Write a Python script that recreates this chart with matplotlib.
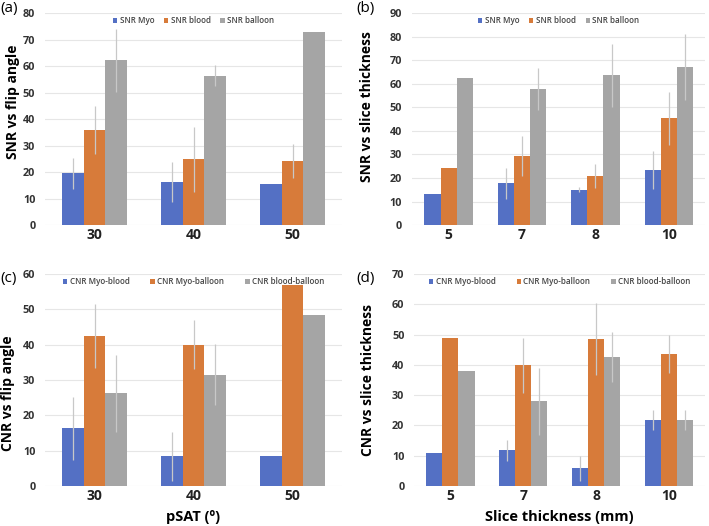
import matplotlib.pyplot as plt
import numpy as np

plt.rcParams['font.family'] = ['Open Sans', 'DejaVu Sans']

# colours (Excel-like palette)
c_blue = '#5470C4'
c_orange = '#D77B3A'
c_gray = '#A5A5A5'

# (a) SNR vs flip angle
flip = ['30', '40', '50']
snr_myo_a = [19.5, 16.3, 15.7]
snr_myo_a_err = [6.0, 7.5, 0]
snr_blood_a = [36.0, 24.8, 24.2]
snr_blood_a_err = [9.0, 12.3, 6.5]
snr_balloon_a = [62.2, 56.4, 72.8]
snr_balloon_a_err = [12.0, 4.0, 0]

# (b) SNR vs slice thickness
thick = ['5', '7', '8', '10']
snr_myo_b = [13.2, 17.8, 15.0, 23.5]
snr_myo_b_err = [0, 6.5, 1.0, 8.0]
snr_blood_b = [24.3, 29.5, 20.8, 45.3]
snr_blood_b_err = [0, 8.5, 5.0, 11.3]
snr_balloon_b = [62.3, 57.7, 63.6, 67.3]
snr_balloon_b_err = [0, 9.0, 13.5, 14.0]

# (c) CNR vs flip angle
cnr_mb_c = [16.3, 8.4, 8.4]
cnr_mb_c_err = [9.0, 7.0, 0]
cnr_mbal_c = [42.5, 40.0, 57.0]
cnr_mbal_c_err = [9.0, 7.0, 0]
cnr_bbal_c = [26.2, 31.5, 48.5]
cnr_bbal_c_err = [11.0, 8.7, 0]

# (d) CNR vs slice thickness
cnr_mb_d = [11.0, 11.8, 5.8, 21.8]
cnr_mb_d_err = [0, 3.4, 4.0, 3.2]
cnr_mbal_d = [49.0, 39.8, 48.5, 43.7]
cnr_mbal_d_err = [0, 9.0, 12.0, 6.3]
cnr_bbal_d = [38.0, 28.0, 42.7, 21.8]
cnr_bbal_d_err = [0, 11.0, 8.3, 3.4]


def panel(ax, cats, series, errs, names, ymax, ylabel, ylab_xy, xlabel=None, leg_gap=1.0):
    x = np.arange(len(cats))
    w = 0.22
    colors = [c_blue, c_orange, c_gray]
    for i, (vals, err, name, col) in enumerate(zip(series, errs, names, colors)):
        ax.bar(x + (i - 1) * w, vals, w, color=col, label=name, zorder=2,
               yerr=err, error_kw=dict(ecolor='#C8C8C8', elinewidth=0.9, capsize=0, zorder=3))
    ax.set_xlim(-0.5, len(cats) - 0.5)
    ax.set_ylim(0, ymax)
    ax.set_yticks(np.arange(0, ymax + 1, 10))
    ax.set_xticks(x)
    ax.set_xticklabels(cats, fontsize=10, fontweight='bold', color='#222222')
    ax.tick_params(axis='y', labelsize=7.8, length=0, pad=7, labelcolor='#333333')
    ax.tick_params(axis='x', length=0, pad=2)
    for lab in ax.get_yticklabels():
        lab.set_fontweight('bold')
    ax.grid(axis='y', color='#E6E6E6', lw=0.8, zorder=0)
    for s in ax.spines.values():
        s.set_visible(False)
    ax.set_ylabel(ylabel, fontsize=10, fontweight='bold')
    ax.yaxis.set_label_coords(*ylab_xy)
    if xlabel:
        ax.set_xlabel(xlabel, fontsize=10.5, fontweight='bold')
        ax.xaxis.set_label_coords(0.5, -0.112)
    leg = ax.legend(loc='upper center', bbox_to_anchor=(0.5, 1.0), ncol=3, frameon=False,
                    prop=dict(size=5.8, weight='semibold'), handlelength=0.55, handleheight=0.55,
                    columnspacing=leg_gap, handletextpad=0.3, borderaxespad=0.0)
    for t in leg.get_texts():
        t.set_color('#444444')


fig = plt.figure(figsize=(7.09, 5.26), dpi=100)

ax_a = fig.add_axes([0.0635, 0.572, 0.419, 0.403])
ax_b = fig.add_axes([0.581, 0.572, 0.414, 0.403])
ax_c = fig.add_axes([0.0635, 0.076, 0.419, 0.403])
ax_d = fig.add_axes([0.584, 0.076, 0.411, 0.403])

panel(ax_a, flip, [snr_myo_a, snr_blood_a, snr_balloon_a],
      [snr_myo_a_err, snr_blood_a_err, snr_balloon_a_err],
      ['SNR Myo', 'SNR blood', 'SNR balloon'], 80, 'SNR vs flip angle', (-0.085, 0.58),
      leg_gap=1.2)
panel(ax_b, thick, [snr_myo_b, snr_blood_b, snr_balloon_b],
      [snr_myo_b_err, snr_blood_b_err, snr_balloon_b_err],
      ['SNR Myo', 'SNR blood', 'SNR balloon'], 90, 'SNR vs slice thickness', (-0.128, 0.56),
      leg_gap=1.2)
panel(ax_c, flip, [cnr_mb_c, cnr_mbal_c, cnr_bbal_c],
      [cnr_mb_c_err, cnr_mbal_c_err, cnr_bbal_c_err],
      ['CNR Myo-blood', 'CNR Myo-balloon', 'CNR blood-balloon'], 60, 'CNR vs flip angle',
      (-0.1, 0.44), xlabel='pSAT (º)', leg_gap=2.6)
panel(ax_d, thick, [cnr_mb_d, cnr_mbal_d, cnr_bbal_d],
      [cnr_mb_d_err, cnr_mbal_d_err, cnr_bbal_d_err],
      ['CNR Myo-blood', 'CNR Myo-balloon', 'CNR blood-balloon'], 70, 'CNR vs slice thickness',
      (-0.135, 0.5), xlabel='Slice thickness (mm)', leg_gap=2.6)

# panel tags
for tx, ty, tag in [(0.0, 0.984, '(a)'), (0.502, 0.984, '(b)'),
                    (0.0, 0.47, '(c)'), (0.502, 0.47, '(d)')]:
    fig.text(tx, ty, tag, fontsize=11, ha='left', va='center')

fig.savefig('out.png', dpi=100)
